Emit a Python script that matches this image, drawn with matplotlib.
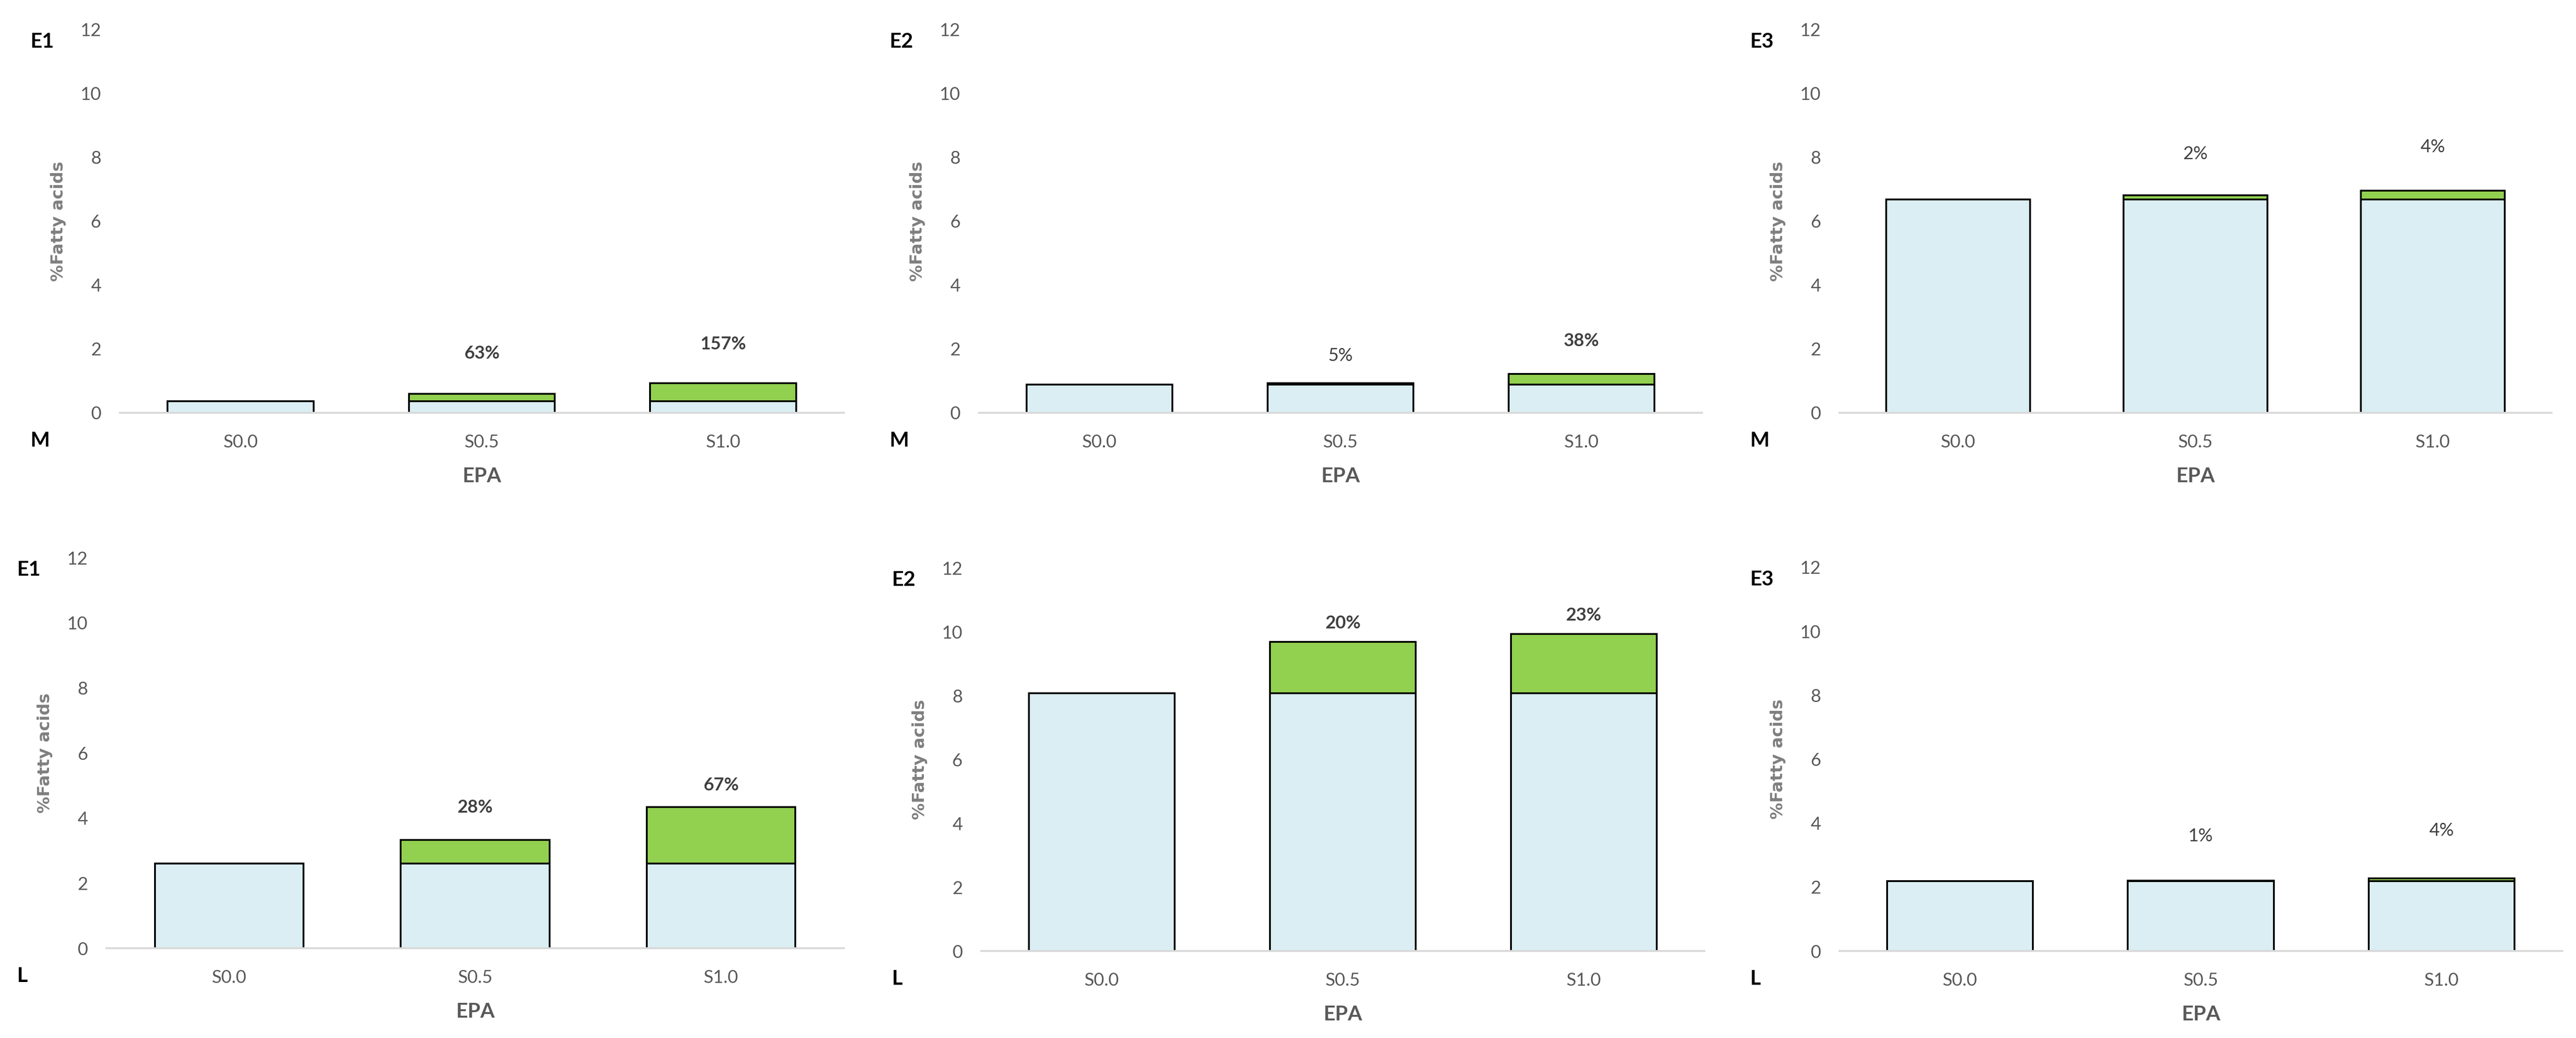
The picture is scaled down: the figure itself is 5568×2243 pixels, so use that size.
import matplotlib
matplotlib.use('Agg')
import matplotlib.pyplot as plt

doses = ['S0.0', 'S0.5', 'S1.0']
rows = ['M', 'L']
cols = ['E1', 'E2', 'E3']

# control level (S0.0) of each panel, used as the base of every bar
base_M = [0.36, 0.88, 6.68]
base_L = [2.60, 8.07, 2.18]

# EPA gained over the control, per dose
extra_M_E1 = [0.0, 0.23, 0.565]
extra_M_E2 = [0.0, 0.044, 0.335]
extra_M_E3 = [0.0, 0.13, 0.27]
extra_L_E1 = [0.0, 0.73, 1.74]
extra_L_E2 = [0.0, 1.61, 1.86]
extra_L_E3 = [0.0, 0.025, 0.087]

# percent labels over the bars (bold = significant)
pct_M_E1 = ['', '63%', '157%']
pct_M_E2 = ['', '5%', '38%']
pct_M_E3 = ['', '2%', '4%']
pct_L_E1 = ['', '28%', '67%']
pct_L_E2 = ['', '20%', '23%']
pct_L_E3 = ['', '1%', '4%']
bold_M = [[True, True], [False, True], [False, False]]
bold_L = [[True, True], [True, True], [False, False]]

extras = {'M': [extra_M_E1, extra_M_E2, extra_M_E3],
          'L': [extra_L_E1, extra_L_E2, extra_L_E3]}
pcts = {'M': [pct_M_E1, pct_M_E2, pct_M_E3],
        'L': [pct_L_E1, pct_L_E2, pct_L_E3]}
bases = {'M': base_M, 'L': base_L}
bolds = {'M': bold_M, 'L': bold_L}

# ---- layout (pixels of the 5568x2243 picture) ----
W, H, DPI = 5568, 2243, 200
# left, top, right, bottom of each plot area
boxes = {('M', 0): (259, 64, 1824, 892),
         ('M', 1): (2116, 64, 3679, 892),
         ('M', 2): (3976, 64, 5515, 892),
         ('L', 0): (230, 1205, 1824, 2049),
         ('L', 1): (2121, 1227, 3684, 2055),
         ('L', 2): (3976, 1226, 5538, 2055)}
# how far (data units) each percent label sits above its bar
lift = {'M': [[1.27, 1.22], [0.86, 1.04], [1.29, 1.37]],
        'L': [[1.00, 0.67], [0.59, 0.59], [1.38, 1.49]]}

blue = '#DAEEF3'
green = '#92D050'
px = 72.0 / DPI  # points per pixel

fig = plt.figure(figsize=(W / DPI, H / DPI), dpi=DPI)

for r in rows:
    for c in range(3):
        l, t, rr, b = boxes[(r, c)]
        ax = fig.add_axes([l / W, 1 - b / H, (rr - l) / W, (b - t) / H])
        x = list(range(len(doses)))
        base = [bases[r][c]] * len(doses)
        extra = extras[r][c]
        ax.bar(x, base, width=0.605, color=blue, edgecolor='black', linewidth=1.4, zorder=2)
        ax.bar(x, extra, bottom=base, width=0.605, color=green, edgecolor='black',
               linewidth=1.4, zorder=2)

        for i in (1, 2):
            top = base[i] + extra[i]
            ax.text(x[i], top + lift[r][c][i - 1], pcts[r][c][i], ha='center', va='center',
                    fontsize=14, family='Lato', color='#404040',
                    fontweight='bold' if bolds[r][c][i - 1] else 'normal')

        ax.set_xlim(-0.5, 2.5)
        ax.set_ylim(0, 12)
        ax.set_yticks([0, 2, 4, 6, 8, 10, 12])
        ax.set_xticks(x)
        ax.set_xticklabels(doses)
        for s in ('top', 'right', 'left'):
            ax.spines[s].set_visible(False)
        ax.spines['bottom'].set_color('#D9D9D9')
        ax.spines['bottom'].set_linewidth(1.5)
        ax.spines['bottom'].set_zorder(3)
        ax.tick_params(length=0, labelsize=14, labelcolor='#595959')
        ax.tick_params(axis='y', pad=40 * px)
        ax.tick_params(axis='x', pad=46 * px)
        for lab in ax.get_xticklabels() + ax.get_yticklabels():
            lab.set_family('Lato')

        ax.annotate('%Fatty acids', xy=(0, 0.5), xycoords='axes fraction',
                    xytext=(-133 * px, 0), textcoords='offset points',
                    rotation=90, ha='center', va='center', fontsize=13,
                    fontweight='bold', family='DejaVu Sans', color='#7F7F7F')
        ax.annotate('EPA', xy=(0.5, 0), xycoords='axes fraction',
                    xytext=(0, -137 * px), textcoords='offset points',
                    ha='center', va='center', fontsize=16,
                    fontweight='bold', family='Lato', color='#595959')
        ax.annotate(cols[c], xy=(0, 1), xycoords='axes fraction',
                    xytext=(-194 * px, -26 * px), textcoords='offset points',
                    ha='left', va='center', fontsize=16,
                    fontweight='bold', family='Lato', color='black')
        ax.annotate(r, xy=(0, 0), xycoords='axes fraction',
                    xytext=(-194 * px, -60 * px), textcoords='offset points',
                    ha='left', va='center', fontsize=16,
                    fontweight='bold', family='Lato', color='black')

fig.savefig('out.png', dpi=DPI, facecolor='white')
